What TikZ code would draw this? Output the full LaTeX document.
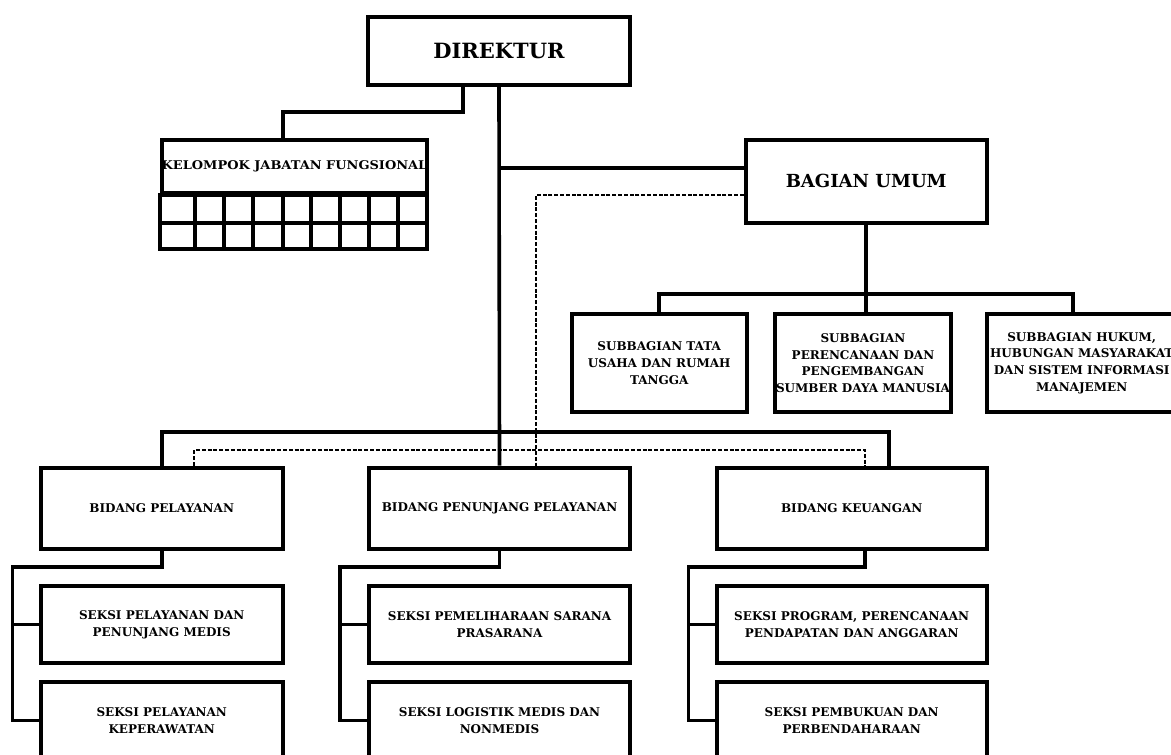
\documentclass[tikz,border=0pt]{standalone}
\usepackage{fontspec}
\setmainfont{DejaVu Serif}
\newfontfamily\kjffont{DejaVu Serif}[FakeStretch=1.08]
\begin{document}
\begin{tikzpicture}[x=1pt,y=-1pt,
  box/.style={draw=black,line width=4pt,rectangle,inner sep=0pt,align=center,
    font=\fontsize{12}{16.7}\selectfont\bfseries},
  conn/.style={draw=black,line width=3.6pt},
  dconn/.style={draw=black,line width=2.2pt,dash pattern=on 4pt off 1.8pt},
  grid/.style={draw=black,line width=4pt}]
\useasboundingbox (0,0) rectangle (1171,755);
% top
\node[box,minimum width=262,minimum height=68,font=\fontsize{21}{24}\selectfont\bfseries] (dir) at (499,51) {DIREKTUR};
\node[box,minimum width=265,minimum height=53,font=\kjffont\fontsize{12}{14}\selectfont\bfseries] (kjf) at (294.5,166.5) {KELOMPOK JABATAN FUNGSIONAL};
\draw[grid] (kjf.south west) rectangle (427,249);
\draw[grid] (162,223) -- (427,223);
\foreach \gx in {195,224,253,282.7,311,340,368.7,398}{\draw[grid] (\gx,193) -- (\gx,249);}
\node[box,minimum width=241,minimum height=82.7,font=\fontsize{18}{22}\selectfont\bfseries] (bu) at (866.2,181.3) {BAGIAN UMUM};
% subbagian
\node[box,minimum width=175,minimum height=98] (sb1) at (659.2,363) {SUBBAGIAN TATA\\USAHA DAN RUMAH\\TANGGA};
\node[box,minimum width=176,minimum height=98] (sb2) at (863,363) {SUBBAGIAN\\PERENCANAAN DAN\\PENGEMBANGAN\\SUMBER DAYA MANUSIA};
\node[box,minimum width=190,minimum height=98] (sb3) at (1081.7,363) {SUBBAGIAN HUKUM,\\HUBUNGAN MASYARAKAT\\DAN SISTEM INFORMASI\\MANAJEMEN};
% bidang
\node[box,minimum width=242,minimum height=81.3] (bp) at (161.7,508.3) {BIDANG PELAYANAN};
\node[box,minimum width=261,minimum height=81.3] (bpp) at (499.5,508.3) {BIDANG PENUNJANG PELAYANAN};
\node[box,minimum width=270,minimum height=81.3] (bk) at (851.7,508.3) {BIDANG KEUANGAN};
% seksi
\node[box,minimum width=242,minimum height=77.6] (sp1) at (161.7,624.5) {SEKSI PELAYANAN DAN\\PENUNJANG MEDIS};
\node[box,minimum width=242,minimum height=77.6] (sp2) at (161.7,720.5) {SEKSI PELAYANAN\\KEPERAWATAN};
\node[box,minimum width=261,minimum height=77.6] (spp1) at (499.5,624.5) {SEKSI PEMELIHARAAN SARANA\\PRASARANA};
\node[box,minimum width=261,minimum height=77.6] (spp2) at (499.5,720.5) {SEKSI LOGISTIK MEDIS DAN\\NONMEDIS};
\node[box,minimum width=270,minimum height=77.6] (sk1) at (851.7,624.5) {SEKSI PROGRAM, PERENCANAAN\\PENDAPATAN DAN ANGGARAN};
\node[box,minimum width=270,minimum height=77.6] (sk2) at (851.7,720.5) {SEKSI PEMBUKUAN DAN\\PERBENDAHARAAN};
% coordinates
\coordinate (j1) at (282.7,112);
\coordinate (m1) at (499,167.7);
\coordinate (d0) at (535.7,195);
\coordinate (dl) at (194.3,450);
\coordinate (dr) at (865,450);
\coordinate (b1) at (889,431.7);
\coordinate (s3) at (1072.7,294);
\coordinate (L1) at (12.3,566.7);
\coordinate (L2) at (340,566.7);
\coordinate (L3) at (688.3,566.7);
% connectors
\draw[conn] (dir.south -| 463,0) |- (j1) -- (j1 |- kjf.north);
\draw[conn] (dir.south) -- (bpp.north);
\draw[conn] (m1) -- (m1 -| bu.west);
\draw[dconn] (d0 -| bu.west) -| (d0 |- bpp.north);
\draw[dconn] (dl |- bp.north) -- (dl) -- (dr) -- (dr |- bk.north);
\draw[conn] (bp.north) |- (b1) -- (b1 |- bk.north);
\draw[conn] (bu.south) -- (bu.south |- sb2.north);
\draw[conn] (sb1.north) |- (s3) -- (s3 |- sb3.north);
\draw[conn] (bp.south) |- (L1) |- (sp2.west);
\draw[conn] (L1 |- sp1.west) -- (sp1.west);
\draw[conn] (bpp.south) |- (L2) |- (spp2.west);
\draw[conn] (L2 |- spp1.west) -- (spp1.west);
\draw[conn] (bk.south -| dr) |- (L3) |- (sk2.west);
\draw[conn] (L3 |- sk1.west) -- (sk1.west);
\end{tikzpicture}
\end{document}
